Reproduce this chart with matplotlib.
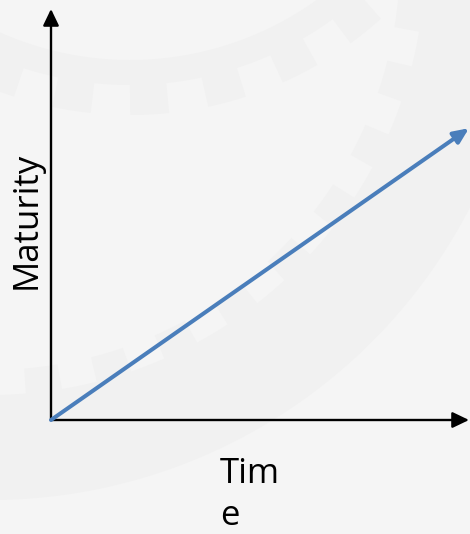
import numpy as np
import matplotlib.pyplot as plt
from matplotlib.patches import PathPatch
from matplotlib.path import Path

# chart data: one straight trend from the origin
time = [0.0, 1.0]
maturity = [0.0, 0.71]
y_label = 'Maturity'
x_label_lines = ['Tim', 'e']

bg = '#f5f5f5'
band = '#f1f1f1'
blue = '#4a7ebb'

fig = plt.figure(figsize=(4.7, 5.34), dpi=100, facecolor=bg)

# faint gear watermark behind everything (pixel coordinates)
wm = fig.add_axes([0, 0, 1, 1])
wm.set_xlim(0, 470)
wm.set_ylim(534, 0)
wm.axis('off')


def gear(cx, cy, r_in, r_out, teeth, depth, outside):
    th = np.linspace(0, 2 * np.pi, 6000)
    sq = (np.sin(teeth * th) > 0).astype(float)
    if outside:
        ro = r_out + depth * sq
        ri = np.full_like(th, r_in)
    else:
        ro = np.full_like(th, r_out)
        ri = r_in + depth * sq
    outer = np.column_stack([cx + ro * np.cos(th), cy + ro * np.sin(th)])
    inner = np.column_stack([cx + ri * np.cos(th), cy + ri * np.sin(th)])[::-1]
    verts = np.vstack([outer, outer[:1], inner, inner[:1]])
    codes = ([Path.MOVETO] + [Path.LINETO] * (len(outer) - 1) + [Path.CLOSEPOLY]
             + [Path.MOVETO] + [Path.LINETO] * (len(inner) - 1) + [Path.CLOSEPOLY])
    return PathPatch(Path(verts, codes), facecolor=band, edgecolor='none')


wm.add_patch(gear(130, -260, 320, 345, 30, 30, True))
wm.add_patch(gear(-10, -40, 410, 540, 38, 25, False))

# main axes: origin at the corner of the two arrows
ax = fig.add_axes([51 / 470, 114 / 534, 418 / 470, 411 / 534])
ax.set_xlim(0, 1)
ax.set_ylim(0, 1)
ax.axis('off')
ax.patch.set_alpha(0)

axis_arrow = dict(arrowstyle='-|>,head_length=0.5,head_width=0.24',
                  mutation_scale=20, lw=1.7, color='black',
                  shrinkA=0, shrinkB=0)
ax.annotate('', xy=(1, 0), xytext=(0, 0), xycoords='axes fraction',
            arrowprops=axis_arrow)
ax.annotate('', xy=(0, 1), xytext=(0, 0), xycoords='axes fraction',
            arrowprops=axis_arrow)

# trend line with arrow head
ax.annotate('', xy=(time[1], maturity[1]), xytext=(time[0], maturity[0]),
            arrowprops=dict(arrowstyle='-|>,head_length=0.45,head_width=0.2',
                            mutation_scale=20, lw=2.9, color=blue,
                            shrinkA=0, shrinkB=0))

# labels
font = ['Open Sans', 'DejaVu Sans']
fig.text(27 / 470, 1 - 220 / 534, y_label, rotation=90, ha='center',
         va='center', fontsize=25, family=font)
fig.text(220 / 470, 1 - 483 / 534, x_label_lines[0], ha='left',
         va='baseline', fontsize=25, family=font)
fig.text(220 / 470, 1 / 534, x_label_lines[1], ha='left',
         va='bottom', fontsize=25, family=font)

fig.savefig('out.png', dpi=100, facecolor=bg)
